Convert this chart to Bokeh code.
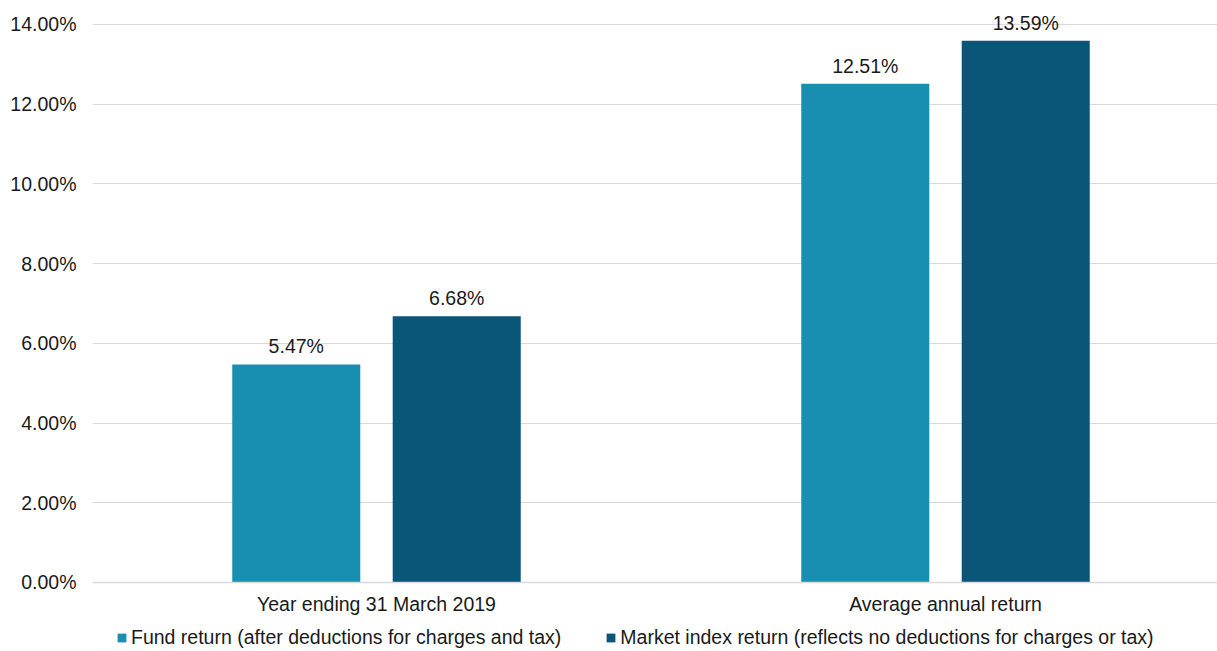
import numpy as np
from bokeh.plotting import figure
from bokeh.models import (ColumnDataSource, Range1d, FixedTicker, PrintfTickFormatter,
                          Legend, LegendItem)
from bokeh.transform import dodge
from bokeh.core.properties import value
from bokeh.embed import file_html
from bokeh.resources import INLINE

categories = ["Year ending 31 March 2019", "Average annual return"]
series_names = ["Fund return (after deductions for charges and tax)",
                "Market index return (reflects no deductions for charges or tax)"]
fund_return = [5.47, 12.51]
market_return = [6.68, 13.59]
y_ticks = [0, 2, 4, 6, 8, 10, 12, 14]

FONT = "Liberation Sans"
FS = "19.5px"
FUND_COLOR = "#188fb0"
MARKET_COLOR = "#0a5679"
TEXT_COLOR = "#1a1a1a"

xpos = [i + 0.5 for i in range(len(categories))]
src = ColumnDataSource(dict(
    x=xpos,
    fund=fund_return,
    market=market_return,
    fund_lbl=[f"{v:.2f}%" for v in fund_return],
    market_lbl=[f"{v:.2f}%" for v in market_return],
))

# frame extends below zero so the legend can sit inside it (0 line at the same spot)
p = figure(frame_width=1125, frame_height=645, output_backend="svg", toolbar_location=None,
           x_range=Range1d(0.0009, 1.978), y_range=Range1d(-1.681, 14.5),
           min_border_left=92, min_border_right=0, min_border_top=4, min_border_bottom=0)
p.outline_line_color = None
p.background_fill_color = "white"

r1 = p.vbar(x=dodge("x", -0.141, range=p.x_range), top="fund", width=0.225,
            source=src, fill_color=FUND_COLOR, line_color=None)
r2 = p.vbar(x=dodge("x", 0.141, range=p.x_range), top="market", width=0.225,
            source=src, fill_color=MARKET_COLOR, line_color=None)

for off, col, lbl in [(-0.141, "fund", "fund_lbl"), (0.141, "market", "market_lbl")]:
    p.text(x=dodge("x", off, range=p.x_range), y=col, text=lbl, source=src,
           text_align="center", text_baseline="bottom", y_offset=-7,
           text_font=value(FONT), text_font_size=FS, text_color=TEXT_COLOR)

# y axis
p.yaxis.ticker = FixedTicker(ticks=y_ticks)
p.yaxis.formatter = PrintfTickFormatter(format="%.2f%%")
p.yaxis.axis_line_color = None
p.yaxis.major_tick_line_color = None
p.yaxis.minor_tick_line_color = None
p.yaxis.major_label_standoff = 10
p.yaxis.major_label_text_font = FONT
p.yaxis.major_label_text_font_size = FS
p.yaxis.major_label_text_color = TEXT_COLOR

# x axis, drawn at the zero line
p.xaxis.fixed_location = 0
p.xaxis.ticker = FixedTicker(ticks=xpos)
p.xaxis.major_label_overrides = {x: c for x, c in zip(xpos, categories)}
p.xaxis.axis_line_color = "#d9d9d9"
p.xaxis.axis_line_width = 1.5
p.xaxis.major_tick_line_color = None
p.xaxis.minor_tick_line_color = None
p.xaxis.major_tick_out = 0
p.xaxis.major_tick_in = 0
p.xaxis.minor_tick_out = 0
p.xaxis.axis_label_standoff = 0
p.xaxis.major_label_standoff = 11
p.xaxis.major_label_text_font = FONT
p.xaxis.major_label_text_font_size = FS
p.xaxis.major_label_text_color = TEXT_COLOR

p.xgrid.grid_line_color = None
p.ygrid.grid_line_color = "#d9d9d9"
p.ygrid.grid_line_width = 1.2

legend = Legend(items=[LegendItem(label=series_names[0], renderers=[r1]),
                       LegendItem(label=series_names[1], renderers=[r2])],
                orientation="horizontal", location=(24, 0),
                label_text_font=FONT, label_text_font_size=FS,
                label_text_color=TEXT_COLOR,
                glyph_width=11, glyph_height=11, label_standoff=4, spacing=44,
                padding=0, margin=0, border_line_color=None,
                background_fill_alpha=0, label_height=18)
p.add_layout(legend, "center")

open("out.html", "w").write(file_html(p, INLINE))
